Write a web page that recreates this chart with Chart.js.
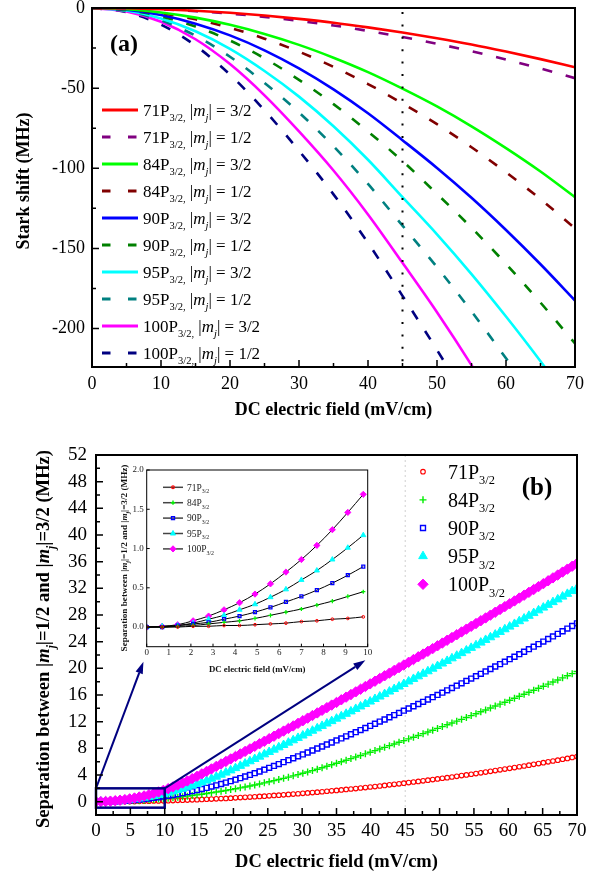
<!DOCTYPE html>
<html>
<head>
<meta charset="utf-8">
<script src="https://cdn.jsdelivr.net/npm/chart.js"></script>
<style>
html, body { margin: 0; padding: 0; background: #fff; }
#wrap { position: relative; width: 600px; height: 877px; overflow: hidden; }
canvas { position: absolute; }
#chartA { left: 0; top: 0; }
#chartB { left: 0; top: 430px; }
#inset { left: 100px; top: 455px; }
</style>
</head>
<body>
<div id="wrap">
  <canvas id="chartA" width="600" height="425"></canvas>
  <canvas id="chartB" width="600" height="447"></canvas>
  <canvas id="inset" width="280" height="230"></canvas>
</div>
<script>
const SERIF = "'Liberation Serif', 'Times New Roman', serif";

// ---------- panel (a): Stark shift (MHz) vs DC field (mV/cm) ----------
const fieldA = [0, 5, 10, 15, 20, 25, 30, 35, 40, 45, 50, 55, 60, 65, 70];
const shift71_32 = [0, -0.19, -0.76, -1.7, -3.0, -4.7, -6.8, -9.2, -12.1, -15.3, -18.9, -22.8, -27.2, -31.9, -37.0];
const shift71_12 = [0, -0.23, -0.9, -2.01, -3.55, -5.56, -8.04, -10.89, -14.31, -18.09, -22.35, -26.97, -32.17, -37.73, -43.76];
const shift84_32 = [0, -0.72, -2.76, -6.0, -10.5, -16.2, -23.0, -31.0, -40.0, -50.3, -61.4, -73.8, -87.4, -102.0, -118.0];
const shift84_12 = [0, -0.84, -3.23, -7.06, -12.38, -19.14, -27.23, -36.76, -47.44, -59.53, -72.5, -86.87, -102.53, -119.28, -137.5];
const shift90_32 = [0, -1.1, -4.4, -9.8, -17.1, -26.4, -37.7, -50.8, -65.7, -82.5, -99.8, -118.4, -138.5, -159.9, -182.5];
const shift90_12 = [0, -1.3, -5.2, -11.6, -20.3, -31.4, -44.8, -60.0, -77.1, -95.5, -116.0, -137.1, -159.7, -183.8, -209.3];
const shift95_32 = [0, -1.6, -6.5, -14.5, -25.5, -39.3, -55.3, -73.8, -94.7, -118.0, -141.2, -166.0, -192.5, -220.4, -250.0];
const shift95_12 = [0, -1.9, -7.7, -17.3, -30.4, -46.7, -65.2, -86.3, -109.8, -135.8, -161.7, -189.3, -218.6, -249.4, -282.0];
const shift100_32 = [0, -2.2, -8.6, -19.5, -35.0, -54.5, -77.0, -101.4, -128.8, -159.0, -189.8, -222.8, -258.0, -295.0, -334.0];
const shift100_12 = [0, -2.64, -10.36, -23.46, -41.62, -63.83, -89.08, -116.28, -146.53, -179.6, -213.36, -249.34, -287.56, -327.64, -369.75];

const shiftsA = [shift71_32, shift71_12, shift84_32, shift84_12, shift90_32, shift90_12, shift95_32, shift95_12, shift100_32, shift100_12];
const statesA = ['71', '71', '84', '84', '90', '90', '95', '95', '100', '100'];
const mjA = ['3/2', '1/2', '3/2', '1/2', '3/2', '1/2', '3/2', '1/2', '3/2', '1/2'];
const colorsA = ['#FF0000', '#800080', '#00FF00', '#800000', '#0000FF', '#008000', '#00FFFF', '#008080', '#FF00FF', '#000080'];
const markedField = 45;

// ---------- panel (b): separation between |mj|=1/2 and 3/2 ----------
const fieldB = [0, 0.7, 1.4, 2.1, 2.8, 3.5, 4.2, 4.9, 5.6, 6.3, 7, 7.7, 8.4, 9.1, 9.8, 10.5, 11.2, 11.9, 12.6, 13.3,
  14, 14.7, 15.4, 16.1, 16.8, 17.5, 18.2, 18.9, 19.6, 20.3, 21, 21.7, 22.4, 23.1, 23.8, 24.5, 25.2, 25.9, 26.6, 27.3,
  28, 28.7, 29.4, 30.1, 30.8, 31.5, 32.2, 32.9, 33.6, 34.3, 35, 35.7, 36.4, 37.1, 37.8, 38.5, 39.2, 39.9, 40.6, 41.3,
  42, 42.7, 43.4, 44.1, 44.8, 45.5, 46.2, 46.9, 47.6, 48.3, 49, 49.7, 50.4, 51.1, 51.8, 52.5, 53.2, 53.9, 54.6, 55.3,
  56, 56.7, 57.4, 58.1, 58.8, 59.5, 60.2, 60.9, 61.6, 62.3, 63, 63.7, 64.4, 65.1, 65.8, 66.5, 67.2, 67.9, 68.6, 69.3, 70];
const sep71 = [0, 0, 0, 0.01, 0.01, 0.02, 0.02, 0.03, 0.04, 0.05, 0.07, 0.08, 0.1, 0.11, 0.13, 0.15, 0.17, 0.2, 0.22, 0.24,
  0.27, 0.3, 0.33, 0.36, 0.39, 0.42, 0.46, 0.49, 0.53, 0.57, 0.61, 0.65, 0.69, 0.74, 0.78, 0.83, 0.88, 0.93, 0.98, 1.03,
  1.08, 1.14, 1.19, 1.25, 1.31, 1.37, 1.43, 1.49, 1.56, 1.62, 1.69, 1.76, 1.83, 1.9, 1.97, 2.05, 2.12, 2.2, 2.27, 2.35,
  2.43, 2.52, 2.6, 2.68, 2.77, 2.86, 2.95, 3.04, 3.13, 3.22, 3.31, 3.41, 3.51, 3.6, 3.7, 3.8, 3.91, 4.01, 4.11, 4.22,
  4.33, 4.44, 4.55, 4.66, 4.77, 4.89, 5, 5.12, 5.24, 5.35, 5.48, 5.6, 5.72, 5.85, 5.97, 6.1, 6.23, 6.36, 6.49, 6.63, 6.76];
const sep84 = [0, 0, 0.01, 0.02, 0.04, 0.06, 0.08, 0.11, 0.15, 0.19, 0.23, 0.28, 0.33, 0.39, 0.45, 0.52, 0.59, 0.67, 0.75, 0.83,
  0.92, 1.02, 1.11, 1.22, 1.33, 1.44, 1.56, 1.68, 1.81, 1.94, 2.07, 2.21, 2.36, 2.51, 2.66, 2.82, 2.98, 3.15, 3.33, 3.5,
  3.68, 3.87, 4.06, 4.26, 4.46, 4.66, 4.87, 5.09, 5.31, 5.53, 5.76, 5.99, 6.22, 6.46, 6.7, 6.93, 7.17, 7.42, 7.66, 7.91,
  8.15, 8.4, 8.65, 8.91, 9.16, 9.42, 9.67, 9.93, 10.2, 10.46, 10.72, 10.99, 11.26, 11.53, 11.8, 12.08, 12.35, 12.63, 12.91, 13.19,
  13.48, 13.76, 14.05, 14.34, 14.63, 14.92, 15.21, 15.51, 15.81, 16.11, 16.41, 16.71, 17.02, 17.32, 17.63, 17.94, 18.25, 18.57, 18.88, 19.2, 19.52];
const sep90 = [0, 0, 0.02, 0.04, 0.06, 0.1, 0.14, 0.19, 0.25, 0.32, 0.39, 0.47, 0.56, 0.66, 0.77, 0.88, 1, 1.13, 1.27, 1.42,
  1.57, 1.73, 1.9, 2.07, 2.26, 2.45, 2.65, 2.86, 3.07, 3.3, 3.53, 3.77, 4.01, 4.27, 4.53, 4.8, 5.08, 5.36, 5.64, 5.93,
  6.22, 6.51, 6.8, 7.09, 7.38, 7.68, 7.98, 8.28, 8.58, 8.88, 9.19, 9.49, 9.8, 10.11, 10.42, 10.74, 11.05, 11.37, 11.69, 12.01,
  12.33, 12.66, 12.99, 13.31, 13.65, 13.98, 14.31, 14.65, 14.98, 15.32, 15.67, 16.01, 16.35, 16.7, 17.05, 17.4, 17.75, 18.11, 18.46, 18.82,
  19.18, 19.54, 19.9, 20.27, 20.63, 21, 21.37, 21.74, 22.12, 22.49, 22.87, 23.25, 23.63, 24.01, 24.4, 24.79, 25.17, 25.56, 25.96, 26.35, 26.75];
const sep95 = [0, 0.01, 0.02, 0.05, 0.1, 0.15, 0.22, 0.29, 0.38, 0.48, 0.6, 0.72, 0.86, 1.01, 1.17, 1.35, 1.53, 1.73, 1.94, 2.16,
  2.39, 2.64, 2.89, 3.16, 3.44, 3.74, 4.04, 4.36, 4.69, 5.03, 5.37, 5.71, 6.06, 6.4, 6.75, 7.1, 7.45, 7.8, 8.15, 8.5,
  8.85, 9.21, 9.56, 9.92, 10.28, 10.64, 11, 11.36, 11.72, 12.08, 12.45, 12.81, 13.18, 13.54, 13.91, 14.28, 14.65, 15.02, 15.4, 15.77,
  16.14, 16.52, 16.9, 17.27, 17.65, 18.03, 18.41, 18.8, 19.18, 19.56, 19.95, 20.34, 20.72, 21.11, 21.5, 21.89, 22.28, 22.68, 23.07, 23.46,
  23.86, 24.26, 24.66, 25.06, 25.46, 25.86, 26.26, 26.66, 27.07, 27.47, 27.88, 28.29, 28.7, 29.11, 29.52, 29.93, 30.34, 30.76, 31.17, 31.59, 32.01];
const sep100 = [0, 0.01, 0.03, 0.08, 0.14, 0.22, 0.31, 0.42, 0.55, 0.7, 0.86, 1.04, 1.24, 1.46, 1.69, 1.94, 2.21, 2.49, 2.79, 3.11,
  3.45, 3.8, 4.17, 4.54, 4.91, 5.29, 5.66, 6.03, 6.41, 6.78, 7.16, 7.54, 7.92, 8.3, 8.68, 9.06, 9.44, 9.82, 10.21, 10.59,
  10.98, 11.36, 11.75, 12.14, 12.53, 12.92, 13.31, 13.7, 14.1, 14.49, 14.88, 15.28, 15.68, 16.07, 16.47, 16.87, 17.27, 17.67, 18.07, 18.48,
  18.88, 19.28, 19.69, 20.1, 20.5, 20.91, 21.32, 21.73, 22.14, 22.55, 22.96, 23.38, 23.79, 24.21, 24.62, 25.04, 25.46, 25.88, 26.3, 26.72,
  27.14, 27.56, 27.98, 28.41, 28.83, 29.26, 29.68, 30.11, 30.54, 30.97, 31.4, 31.83, 32.26, 32.7, 33.13, 33.57, 34, 34.44, 34.88, 35.31, 35.75];

const sepB = [sep71, sep84, sep90, sep95, sep100];
const statesB = ['71', '84', '90', '95', '100'];
const colorsB = ['#FF0000', '#00EE00', '#0000FF', '#00FFFF', '#FF00FF'];
const insetCount = 15; // inset shows the first points, 0 - 9.8 mV/cm

// zoom box and arrows (data coordinates of panel b)
const zoomBoxX = [0, 10];
const zoomBoxY = [-0.9, 2.0];
const arrowTipX = [6.9, 39.2];
const arrowTipY = [21.0, 21.2];

// marker looks for each state
const stylesB = [
  { pointStyle: 'circle', radius: 2.3, filled: false, bw: 1.1 },
  { pointStyle: 'cross', radius: 3.5, filled: false, bw: 1.4 },
  { pointStyle: 'rect', radius: 3.5, filled: false, bw: 1.4 },
  { pointStyle: 'triangle', radius: 5, filled: true, bw: 1 },
  { pointStyle: 'rectRot', radius: 5.2, filled: true, bw: 1 }
];
const insetScale = 0.6;

// ---------- helpers ----------
function isMult(v, s) {
  return Math.abs(v / s - Math.round(v / s)) < 1e-6;
}

// text made of pieces (italic, subscript); y is the middle of the text
function drawRich(ctx, parts, x, y, size, opt = {}) {
  const fontFor = p => {
    const s = p.sub ? size * 0.62 : size;
    return (p.i ? 'italic ' : '') + (opt.bold ? 'bold ' : '') + s.toFixed(2) + 'px ' + SERIF;
  };
  ctx.save();
  ctx.translate(x, y);
  if (opt.rotate) ctx.rotate(opt.rotate);
  let w = 0;
  parts.forEach(p => { ctx.font = fontFor(p); w += ctx.measureText(p.t).width; });
  let cx = opt.align === 'center' ? -w / 2 : 0;
  ctx.fillStyle = opt.color || '#000';
  ctx.textAlign = 'left';
  ctx.textBaseline = 'alphabetic';
  parts.forEach(p => {
    ctx.font = fontFor(p);
    ctx.fillText(p.t, cx, size * 0.34 + (p.sub ? size * 0.28 : 0));
    cx += ctx.measureText(p.t).width;
  });
  ctx.restore();
}

function drawMarker(ctx, st, color, x, y, scale) {
  ctx.save();
  ctx.strokeStyle = color;
  ctx.fillStyle = st.filled ? color : 'rgba(0,0,0,0)';
  ctx.lineWidth = st.bw;
  ctx.setLineDash([]);
  const opts = { pointStyle: st.pointStyle, radius: st.radius * scale, borderWidth: st.bw, rotation: 0 };
  if (Chart.helpers && Chart.helpers.drawPoint) {
    Chart.helpers.drawPoint(ctx, opts, x, y);
  } else {
    ctx.beginPath();
    ctx.arc(x, y, opts.radius, 0, Math.PI * 2);
    ctx.fill();
    ctx.stroke();
  }
  ctx.restore();
}

// box round the plot and inward ticks
function frameTicks(chart, lw, majLen, minLen, xStep, yStep) {
  const { ctx, chartArea: a, scales: { x, y } } = chart;
  ctx.save();
  ctx.setLineDash([]);
  ctx.strokeStyle = '#000';
  ctx.lineWidth = lw;
  ctx.strokeRect(a.left, a.top, a.right - a.left, a.bottom - a.top);
  ctx.lineWidth = Math.max(1, lw * 0.75);
  ctx.beginPath();
  x.ticks.forEach(t => {
    const px = x.getPixelForValue(t.value);
    const len = isMult(t.value, xStep) ? majLen : minLen;
    ctx.moveTo(px, a.bottom);
    ctx.lineTo(px, a.bottom - len);
  });
  y.ticks.forEach(t => {
    const py = y.getPixelForValue(t.value);
    const len = isMult(t.value, yStep) ? majLen : minLen;
    ctx.moveTo(a.left, py);
    ctx.lineTo(a.left + len, py);
  });
  ctx.stroke();
  ctx.restore();
}

function arrow(ctx, x1, y1, x2, y2, head, half) {
  const ang = Math.atan2(y2 - y1, x2 - x1);
  const bx = x2 - head * Math.cos(ang), by = y2 - head * Math.sin(ang);
  ctx.beginPath();
  ctx.moveTo(x1, y1);
  ctx.lineTo(bx, by);
  ctx.stroke();
  ctx.beginPath();
  ctx.moveTo(x2, y2);
  ctx.lineTo(bx + half * Math.sin(ang), by - half * Math.cos(ang));
  ctx.lineTo(bx - half * Math.sin(ang), by + half * Math.cos(ang));
  ctx.closePath();
  ctx.fill();
}

function mjParts(mj) {
  return [{ t: ' |' }, { t: 'm', i: true }, { t: 'j', i: true, sub: true }, { t: '| = ' + mj }];
}
const sepTitle = [
  { t: 'Separation between |' }, { t: 'm', i: true }, { t: 'j', i: true, sub: true },
  { t: '|=1/2 and |' }, { t: 'm', i: true }, { t: 'j', i: true, sub: true }, { t: '|=3/2 (MHz)' }
];

function tickFont(size) {
  return { family: SERIF, size: size, lineHeight: 1.2 };
}

// ---------- chart (a) ----------
const pluginA = {
  id: 'panelA',
  afterDatasetsDraw(chart) {
    const { ctx, chartArea: a, scales: { x } } = chart;
    const px = x.getPixelForValue(markedField);
    ctx.save();
    ctx.strokeStyle = '#000';
    ctx.lineWidth = 2;
    ctx.setLineDash([2, 10.4]);
    ctx.beginPath();
    ctx.moveTo(px, a.top + 4);
    ctx.lineTo(px, a.bottom);
    ctx.stroke();
    ctx.restore();
    frameTicks(chart, 2, 7, 4, 10, 50);
  },
  afterDraw(chart) {
    const ctx = chart.ctx;
    // legend
    shiftsA.forEach((_, i) => {
      const ry = 110 + 27 * i;
      ctx.save();
      ctx.strokeStyle = colorsA[i];
      ctx.lineWidth = 2.8;
      ctx.setLineDash(i % 2 ? [8.5, 17.5] : []);
      ctx.beginPath();
      ctx.moveTo(102, ry);
      ctx.lineTo(138, ry);
      ctx.stroke();
      ctx.restore();
      drawRich(ctx, [{ t: statesA[i] + 'P' }, { t: '3/2,', sub: true }].concat(mjParts(mjA[i])), 143, ry, 17);
    });
    drawRich(ctx, [{ t: '(a)' }], 110, 43, 24, { bold: true });
    drawRich(ctx, [{ t: 'Stark shift (MHz)' }], 23, 181, 18, { bold: true, align: 'center', rotate: -Math.PI / 2 });
  }
};

new Chart(document.getElementById('chartA'), {
  type: 'line',
  data: {
    datasets: shiftsA.map((ys, i) => ({
      data: fieldA.map((f, k) => ({ x: f, y: ys[k] })),
      borderColor: colorsA[i],
      borderWidth: 2.6,
      borderDash: i % 2 ? [10, 14] : [],
      pointRadius: 0,
      cubicInterpolationMode: 'monotone',
      fill: false
    }))
  },
  options: {
    responsive: false,
    animation: false,
    events: [],
    layout: { padding: { left: 0, right: 25, top: 8, bottom: 0 } },
    plugins: { legend: { display: false }, tooltip: { enabled: false } },
    scales: {
      x: {
        type: 'linear', min: 0, max: 70,
        afterFit: s => { s.height = 58; s.paddingLeft = 0; s.paddingRight = 0; },
        grid: { display: false, drawTicks: false },
        border: { display: false },
        ticks: {
          stepSize: 5, autoSkip: false, maxRotation: 0, padding: 6, color: '#000',
          font: tickFont(18), callback: v => isMult(v, 10) ? String(v) : ''
        },
        title: {
          display: true, text: 'DC electric field (mV/cm)', color: '#000',
          font: { family: SERIF, size: 18, weight: 'bold' }, padding: { top: 0, bottom: 4 }
        }
      },
      y: {
        type: 'linear', min: -224, max: 0,
        afterFit: s => { s.width = 92; s.paddingTop = 0; s.paddingBottom = 0; },
        grid: { display: false, drawTicks: false },
        border: { display: false },
        ticks: {
          stepSize: 25, includeBounds: false, autoSkip: false, padding: 7, color: '#000',
          font: tickFont(18), callback: v => isMult(v, 50) ? String(v) : ''
        }
      }
    }
  },
  plugins: [pluginA]
});

// ---------- chart (b) ----------
const pluginB = {
  id: 'panelB',
  beforeDatasetsDraw(chart) {
    const { ctx, chartArea: a, scales: { x } } = chart;
    const px = x.getPixelForValue(markedField);
    ctx.save();
    ctx.strokeStyle = '#cfcfcf';
    ctx.lineWidth = 1;
    ctx.setLineDash([2, 3]);
    ctx.beginPath();
    ctx.moveTo(px, a.top);
    ctx.lineTo(px, a.bottom);
    ctx.stroke();
    ctx.restore();
  },
  afterDatasetsDraw(chart) {
    const { ctx, scales: { x, y } } = chart;
    const x0 = x.getPixelForValue(zoomBoxX[0]), x1 = x.getPixelForValue(zoomBoxX[1]);
    const y0 = y.getPixelForValue(zoomBoxY[0]), y1 = y.getPixelForValue(zoomBoxY[1]);
    ctx.save();
    ctx.strokeStyle = '#000080';
    ctx.fillStyle = '#000080';
    ctx.lineWidth = 2.5;
    ctx.strokeRect(x0, y1, x1 - x0, y0 - y1);
    ctx.lineWidth = 2;
    arrow(ctx, x0, y1, x.getPixelForValue(arrowTipX[0]), y.getPixelForValue(arrowTipY[0]), 12, 3.8);
    arrow(ctx, x1, y1, x.getPixelForValue(arrowTipX[1]), y.getPixelForValue(arrowTipY[1]), 12, 3.8);
    ctx.restore();
    frameTicks(chart, 2, 7, 4, 5, 4);
  },
  afterDraw(chart) {
    const ctx = chart.ctx;
    statesB.forEach((n, i) => {
      const ry = 41.7 + 28.15 * i;
      drawMarker(ctx, stylesB[i], colorsB[i], 423, ry, 1);
      drawRich(ctx, [{ t: n + 'P' }, { t: '3/2', sub: true }], 448, ry, 20);
    });
    drawRich(ctx, [{ t: '(b)' }], 537, 56.7, 25, { bold: true, align: 'center' });
    drawRich(ctx, sepTitle, 43, 209, 18.6, { bold: true, align: 'center', rotate: -Math.PI / 2 });
  }
};

new Chart(document.getElementById('chartB'), {
  type: 'scatter',
  data: {
    datasets: sepB.map((ys, i) => ({
      data: fieldB.map((f, k) => ({ x: f, y: ys[k] })),
      pointStyle: stylesB[i].pointStyle,
      pointRadius: stylesB[i].radius,
      pointBorderWidth: stylesB[i].bw,
      pointBorderColor: colorsB[i],
      pointBackgroundColor: stylesB[i].filled ? colorsB[i] : 'rgba(0,0,0,0)',
      order: sepB.length - i
    }))
  },
  options: {
    responsive: false,
    animation: false,
    events: [],
    layout: { padding: { left: 0, right: 23, top: 25, bottom: 0 } },
    plugins: { legend: { display: false }, tooltip: { enabled: false } },
    scales: {
      x: {
        type: 'linear', min: 0, max: 70,
        afterFit: s => { s.height = 62; s.paddingLeft = 0; s.paddingRight = 0; },
        grid: { display: false, drawTicks: false },
        border: { display: false },
        ticks: {
          stepSize: 2.5, autoSkip: false, maxRotation: 0, padding: 5, color: '#000',
          font: tickFont(19), callback: v => isMult(v, 5) ? String(Math.round(v)) : ''
        },
        title: {
          display: true, text: 'DC electric field (mV/cm)', color: '#000',
          font: { family: SERIF, size: 18.5, weight: 'bold' }, padding: { top: 0, bottom: 4 }
        }
      },
      y: {
        type: 'linear', min: -2, max: 52,
        afterFit: s => { s.width = 96; s.paddingTop = 0; s.paddingBottom = 0; },
        grid: { display: false, drawTicks: false },
        border: { display: false },
        ticks: {
          stepSize: 2, autoSkip: false, padding: 9, color: '#000',
          font: tickFont(19), callback: v => isMult(v, 4) ? String(Math.round(v)) : ''
        }
      }
    }
  },
  plugins: [pluginB]
});

// ---------- inset: first 10 mV/cm ----------
const pluginInset = {
  id: 'inset',
  afterDatasetsDraw(chart) {
    frameTicks(chart, 1, 3, 3, 1, 0.5);
  },
  afterDraw(chart) {
    const ctx = chart.ctx;
    statesB.forEach((n, i) => {
      const ry = 32.3 + 15.4 * i;
      ctx.save();
      ctx.strokeStyle = '#444';
      ctx.lineWidth = 1.5;
      ctx.beginPath();
      ctx.moveTo(63, ry);
      ctx.lineTo(83, ry);
      ctx.stroke();
      ctx.restore();
      drawMarker(ctx, stylesB[i], colorsB[i], 73, ry, insetScale);
      drawRich(ctx, [{ t: n + 'P' }, { t: '3/2', sub: true }], 87, ry, 9.5, { color: '#222' });
    });
    drawRich(ctx, sepTitle, 24, 103, 9.2, { bold: true, align: 'center', rotate: -Math.PI / 2, color: '#111' });
  }
};

new Chart(document.getElementById('inset'), {
  type: 'line',
  data: {
    datasets: sepB.map((ys, i) => ({
      data: fieldB.slice(0, insetCount).map((f, k) => ({ x: f, y: ys[k] })),
      borderColor: '#000',
      borderWidth: 1,
      cubicInterpolationMode: 'monotone',
      pointStyle: stylesB[i].pointStyle,
      pointRadius: stylesB[i].radius * insetScale,
      pointBorderWidth: stylesB[i].bw * 0.9,
      pointBorderColor: colorsB[i],
      pointBackgroundColor: stylesB[i].filled ? colorsB[i] : 'rgba(0,0,0,0)',
      fill: false
    }))
  },
  options: {
    responsive: false,
    animation: false,
    events: [],
    layout: { padding: { left: 0, right: 12.3, top: 15, bottom: 0 } },
    plugins: { legend: { display: false }, tooltip: { enabled: false } },
    scales: {
      x: {
        type: 'linear', min: 0, max: 10,
        afterFit: s => { s.height = 38.3; s.paddingLeft = 0; s.paddingRight = 0; },
        grid: { display: false, drawTicks: false },
        border: { display: false },
        ticks: { stepSize: 1, autoSkip: false, maxRotation: 0, padding: 1, color: '#222', font: tickFont(9) },
        title: {
          display: true, text: 'DC electric field (mV/cm)', color: '#111',
          font: { family: SERIF, size: 8.8, weight: 'bold' }, padding: { top: 0, bottom: 9.6 }
        }
      },
      y: {
        type: 'linear', min: -0.25, max: 2.0,
        afterFit: s => { s.width = 46.7; s.paddingTop = 0; s.paddingBottom = 0; },
        grid: { display: false, drawTicks: false },
        border: { display: false },
        ticks: {
          stepSize: 0.5, includeBounds: false, autoSkip: false, padding: 3, color: '#222',
          font: tickFont(9), callback: v => v.toFixed(1)
        }
      }
    }
  },
  plugins: [pluginInset]
});
</script>
</body>
</html>
